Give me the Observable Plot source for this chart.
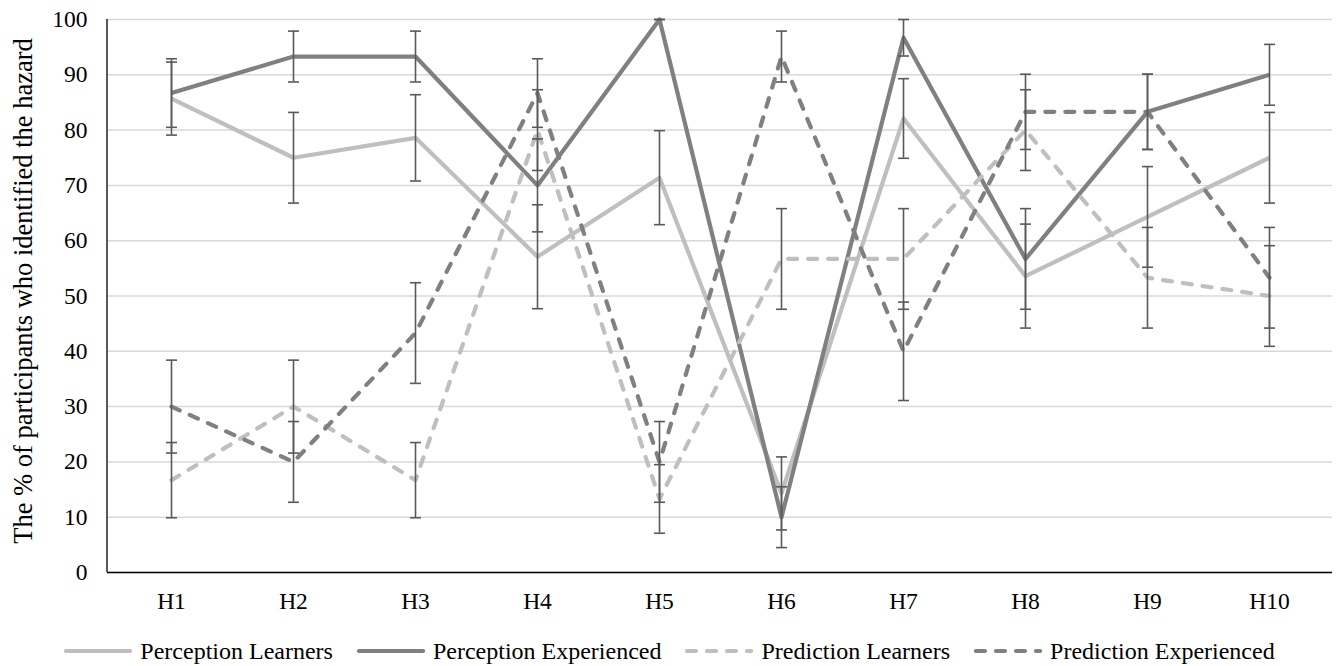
<!DOCTYPE html>
<html>
<head>
<meta charset="utf-8">
<script src="https://cdn.jsdelivr.net/npm/d3@7"></script>
<script src="https://cdn.jsdelivr.net/npm/@observablehq/plot@0.6"></script>
<style>
  html, body { margin: 0; padding: 0; background: #fff; }
  #wrap { position: relative; width: 1339px; height: 666px; font-family: "Liberation Serif", "Times New Roman", serif; }
  #ytitle { position: absolute; left: 23px; top: 291px; transform: translate(-50%, -50%) rotate(-90deg); white-space: nowrap; font-size: 26.5px; color: #000; }
  #legend { position: absolute; left: 0; top: 631px; width: 1339px; height: 40px; display: flex; justify-content: center; align-items: center; gap: 24px; font-size: 24px; color: #000; }
  .item { display: flex; align-items: center; gap: 8px; }
  .item svg { display: block; }
</style>
</head>
<body>
<div id="wrap">
  <div id="chart"></div>
  <div id="ytitle">The % of participants who identified the hazard</div>
  <div id="legend"></div>
</div>
<script>
const categories = ["H1", "H2", "H3", "H4", "H5", "H6", "H7", "H8", "H9", "H10"];
const seriesNames = ["Perception Learners", "Perception Experienced", "Prediction Learners", "Prediction Experienced"];

const perceptionLearners      = [85.7, 75, 78.6, 57.1, 71.4, 14.3, 82.1, 53.6, 64.3, 75];
const perceptionLearnersErr   = [6.6, 8.2, 7.8, 9.4, 8.5, 6.6, 7.2, 9.4, 9.1, 8.2];
const perceptionExperienced   = [86.7, 93.3, 93.3, 70, 100, 10, 96.7, 56.7, 83.3, 90];
const perceptionExperiencedErr= [6.2, 4.6, 4.6, 8.4, 0, 5.5, 3.3, 9.1, 6.8, 5.5];
const predictionLearners      = [16.7, 30, 16.7, 80, 13.3, 56.7, 56.7, 80, 53.3, 50];
const predictionLearnersErr   = [6.8, 8.4, 6.8, 7.3, 6.2, 9.1, 9.1, 7.3, 9.1, 9.1];
const predictionExperienced   = [30, 20, 43.3, 86.7, 20, 93.3, 40, 83.3, 83.3, 53.3];
const predictionExperiencedErr= [8.4, 7.3, 9.1, 6.2, 7.3, 4.6, 8.9, 6.8, 6.8, 9.1];

const yTicks = [0, 10, 20, 30, 40, 50, 60, 70, 80, 90, 100];

const LIGHT = "#BFBFBF", DARK = "#808080", ERR = "#595959", DASH = "9,11";

const styles = [
  {name: seriesNames[0], values: perceptionLearners, err: perceptionLearnersErr, color: LIGHT, dash: null},
  {name: seriesNames[1], values: perceptionExperienced, err: perceptionExperiencedErr, color: DARK, dash: null},
  {name: seriesNames[2], values: predictionLearners, err: predictionLearnersErr, color: LIGHT, dash: DASH},
  {name: seriesNames[3], values: predictionExperienced, err: predictionExperiencedErr, color: DARK, dash: DASH}
];

const table = styles.map(s => categories.map((c, i) => ({series: s.name, cat: c, v: s.values[i], e: s.err[i]})));
const allRows = table.flat();

const capSymbol = {
  draw(ctx, size) {
    const w = Math.sqrt(size / Math.PI);
    ctx.moveTo(-w, 0);
    ctx.lineTo(w, 0);
  }
};

const leftAxisLine = (index, scales, values, dims) => {
  const svg = d3.create("svg:line")
    .attr("x1", dims.marginLeft).attr("x2", dims.marginLeft)
    .attr("y1", dims.marginTop).attr("y2", dims.height - dims.marginBottom)
    .attr("stroke", "#000").attr("stroke-width", 1.3);
  return svg.node();
};

const marks = [
  Plot.gridY(yTicks, {stroke: "#D9D9D9", strokeOpacity: 1, strokeWidth: 1.5}),
  Plot.axisY(yTicks, {tickSize: 0, tickPadding: 20, fontSize: 23.5, label: null}),
  Plot.axisX(categories, {tickSize: 0, tickPadding: 20, fontSize: 23.5, label: null}),
  Plot.ruleY([0], {stroke: "#000", strokeWidth: 1.5}),
  leftAxisLine
];
styles.forEach((s, k) => {
  marks.push(Plot.line(table[k], {
    x: "cat", y: "v", stroke: s.color, strokeWidth: 4.2,
    strokeDasharray: s.dash || undefined, strokeLinecap: s.dash ? "round" : "butt", strokeLinejoin: "round"
  }));
});
marks.push(Plot.ruleX(allRows, {x: "cat", y1: d => d.v - d.e, y2: d => d.v + d.e, stroke: ERR, strokeWidth: 1.6}));
marks.push(Plot.dot(allRows, {x: "cat", y: d => d.v + d.e, symbol: capSymbol, r: 5.5, fill: "none", stroke: ERR, strokeWidth: 1.6}));
marks.push(Plot.dot(allRows, {x: "cat", y: d => d.v - d.e, symbol: capSymbol, r: 5.5, fill: "none", stroke: ERR, strokeWidth: 1.6}));

const chart = Plot.plot({
  width: 1339,
  height: 625,
  marginLeft: 107,
  marginRight: 7,
  marginTop: 19,
  marginBottom: 53,
  style: {fontFamily: "Liberation Serif, Times New Roman, serif", fontSize: "23.5px", color: "#000", background: "#fff"},
  x: {type: "point", domain: categories, padding: 0.5, axis: null},
  y: {domain: [0, 100], axis: null},
  marks
});
document.getElementById("chart").appendChild(chart);

const legend = document.getElementById("legend");
styles.forEach(s => {
  const item = document.createElement("div");
  item.className = "item";
  const dashAttr = s.dash ? `stroke-dasharray="${s.dash}" stroke-linecap="round"` : `stroke-linecap="round"`;
  item.innerHTML = `<svg width="68" height="10"><line x1="2" x2="66" y1="5" y2="5" stroke="${s.color}" stroke-width="4.2" ${dashAttr}></line></svg><span>${s.name}</span>`;
  legend.appendChild(item);
});
</script>
</body>
</html>
